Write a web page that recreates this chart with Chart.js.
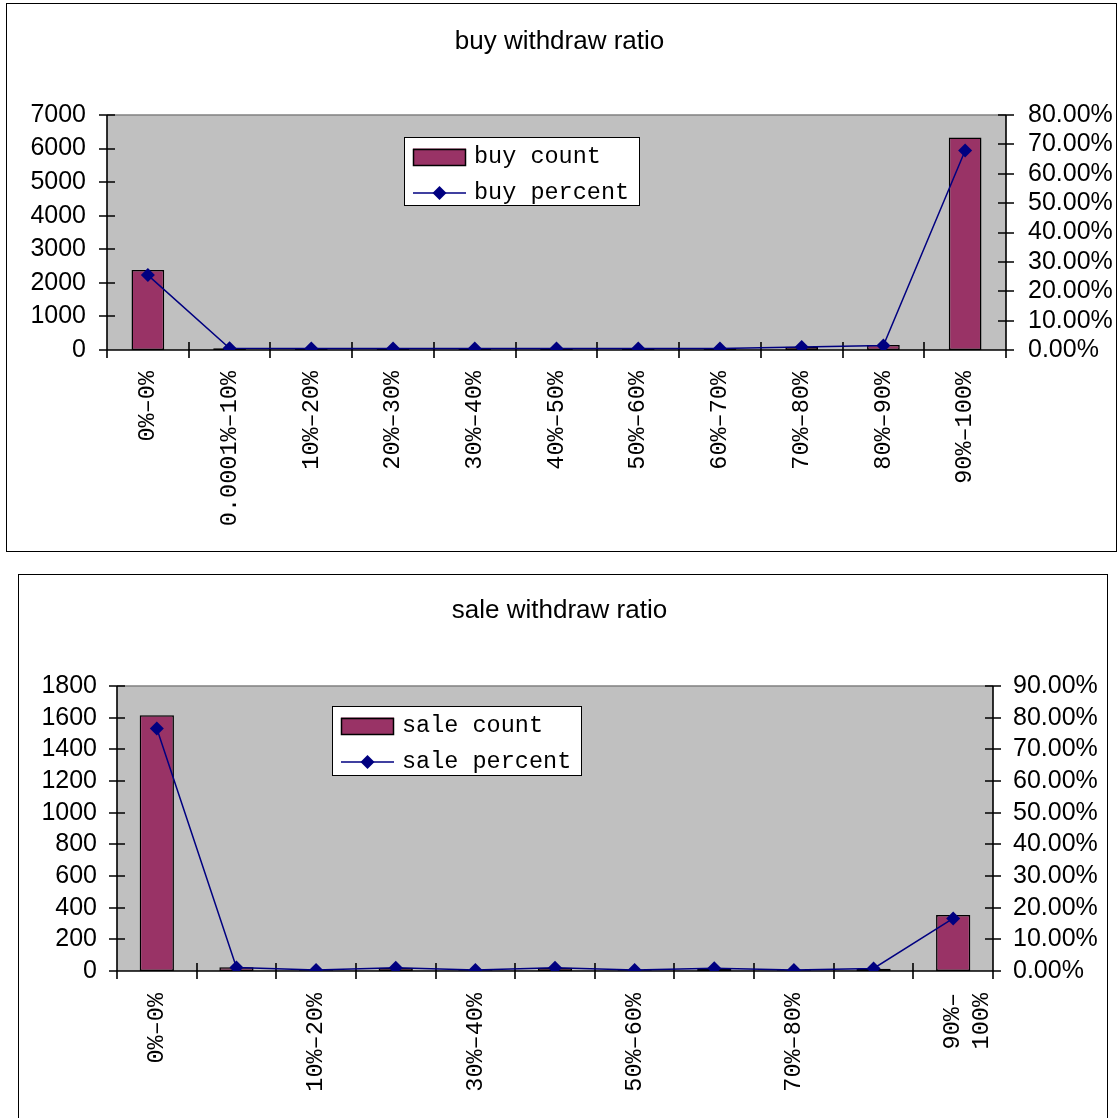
<!DOCTYPE html>
<html>
<head>
<meta charset="utf-8">
<title>withdraw ratio</title>
<script src="https://cdn.jsdelivr.net/npm/chart.js@4/dist/chart.umd.min.js"></script>
<style>
  html, body { margin: 0; padding: 0; background: #fff; }
  body { width: 1119px; height: 1118px; position: relative; overflow: hidden; }
  .frame { position: absolute; border: 1px solid #000; box-sizing: border-box; }
  canvas { position: absolute; left: 0; }
</style>
</head>
<body>
<div class="frame" style="left:6px; top:3px; width:1111px; height:549px;"></div>
<div class="frame" style="left:18px; top:574px; width:1090px; height:600px;"></div>
<canvas id="buyChart" width="1119" height="552" style="top:0;"></canvas>
<canvas id="saleChart" width="1119" height="558" style="top:560px;"></canvas>

<script>
// ---- data ----
const buyRanges = ['0%–0%', '0.0001%–10%', '10%–20%', '20%–30%', '30%–40%', '40%–50%',
                   '50%–60%', '60%–70%', '70%–80%', '80%–90%', '90%–100%'];
const saleRanges = ['0%–0%', '0.0001%–10%', '10%–20%', '20%–30%', '30%–40%', '40%–50%',
                    '50%–60%', '60%–70%', '70%–80%', '80%–90%', ['90%–', '100%']];

const buyCount   = [2380, 55, 50, 45, 50, 50, 45, 50, 100, 150, 6330];
const buyPercent = [25.5, 0.6, 0.5, 0.5, 0.5, 0.5, 0.5, 0.5, 1.0, 1.5, 67.9];

const saleCount   = [1615, 23, 5, 20, 5, 20, 5, 18, 5, 15, 353];
const salePercent = [76.6, 1.1, 0.3, 1.0, 0.3, 1.0, 0.3, 0.9, 0.3, 0.8, 16.6];

// axis ranges (count axis max/step, percent axis max/step)
const buyCountMax = 7000,  buyCountStep = 1000;
const buyPctMax   = 80,    buyPctStep   = 10;
const saleCountMax = 1800, saleCountStep = 200;
const salePctMax   = 90,   salePctStep   = 10;
const saleLabelStep = 2;   // every other category name is printed on the sale chart

// ---- styling ----
const SANS = "'Liberation Sans', Arial, sans-serif";
const MONO = "'Liberation Mono', 'DejaVu Sans Mono', monospace";
const BAR_FILL = '#993366';
const LINE_COLOR = '#000080';

Chart.defaults.font.family = SANS;
Chart.defaults.color = '#000';

// grey plot background, axis lines and tick marks that cross the axes
const axisFrame = {
  id: 'axisFrame',
  beforeDraw(chart) {
    const { ctx, chartArea: a } = chart;
    ctx.save();
    ctx.fillStyle = '#c0c0c0';
    ctx.fillRect(a.left, a.top, a.right - a.left, a.bottom - a.top);
    ctx.strokeStyle = '#808080';
    ctx.lineWidth = 1.5;
    ctx.beginPath();
    ctx.moveTo(a.left, Math.round(a.top));
    ctx.lineTo(a.right, Math.round(a.top));
    ctx.stroke();
    ctx.restore();
  },
  beforeDatasetsDraw(chart, args, opts) {
    const { ctx, chartArea: a, scales } = chart;
    const t = opts.tick || 8;
    const px = v => Math.round(v);
    const L = px(a.left), R = px(a.right), B = px(a.bottom), T = px(a.top);
    ctx.save();
    ctx.strokeStyle = '#000';
    ctx.lineWidth = 1.6;
    ctx.beginPath();
    ctx.moveTo(L, T); ctx.lineTo(L, B + t);
    ctx.moveTo(R, T); ctx.lineTo(R, B + t);
    ctx.moveTo(L - t, B); ctx.lineTo(R + t, B);
    scales.y.ticks.forEach(tk => {
      const y = px(scales.y.getPixelForValue(tk.value));
      ctx.moveTo(L - t, y); ctx.lineTo(L + t, y);
    });
    scales.y1.ticks.forEach(tk => {
      const y = px(scales.y1.getPixelForValue(tk.value));
      ctx.moveTo(R - t, y); ctx.lineTo(R + t, y);
    });
    const n = chart.data.labels.length;
    for (let i = 0; i <= n; i++) {
      const x = px(scales.x.getPixelForValue(i - 0.5));
      ctx.moveTo(x, B - t); ctx.lineTo(x, B + t);
    }
    ctx.stroke();
    ctx.restore();
  }
};

// boxed legend placed inside the plot area
const insetLegend = {
  id: 'insetLegend',
  afterDatasetsDraw(chart, args, o) {
    const { ctx } = chart;
    ctx.save();
    ctx.fillStyle = '#fff';
    ctx.fillRect(o.left, o.top, o.width, o.height);
    ctx.strokeStyle = '#000';
    ctx.lineWidth = 1;
    ctx.strokeRect(o.left + 0.5, o.top + 0.5, o.width - 1, o.height - 1);
    ctx.font = o.font;
    ctx.textBaseline = 'middle';
    ctx.textAlign = 'left';
    chart.data.datasets.forEach((ds, i) => {
      const cy = o.top + o.rowTop + i * o.rowGap;
      const sx = o.left + o.swatchX;
      const sw = o.swatchW, sh = o.swatchH;
      if (ds.type === 'line') {
        ctx.strokeStyle = ds.borderColor;
        ctx.lineWidth = ds.borderWidth;
        ctx.beginPath();
        ctx.moveTo(sx, cy); ctx.lineTo(sx + sw, cy);
        ctx.stroke();
        const r = ds.pointRadius, cx = sx + sw / 2;
        ctx.fillStyle = ds.pointBackgroundColor;
        ctx.beginPath();
        ctx.moveTo(cx, cy - r); ctx.lineTo(cx + r, cy);
        ctx.lineTo(cx, cy + r); ctx.lineTo(cx - r, cy);
        ctx.closePath();
        ctx.fill();
      } else {
        ctx.fillStyle = ds.backgroundColor;
        ctx.fillRect(sx, cy - sh / 2, sw, sh);
        ctx.strokeStyle = ds.borderColor;
        ctx.lineWidth = 1.5;
        ctx.strokeRect(Math.round(sx) + 0.5, Math.round(cy - sh / 2) + 0.5, sw - 1, sh - 1);
      }
      ctx.fillStyle = '#000';
      ctx.fillText(ds.label, o.left + o.textX, cy);
    });
    ctx.restore();
  }
};

function makeChart(canvasId, cfg) {
  return new Chart(document.getElementById(canvasId), {
    data: {
      labels: cfg.labels,
      datasets: [
        {
          type: 'bar', label: cfg.countLabel, data: cfg.count, yAxisID: 'y', order: 1,
          backgroundColor: BAR_FILL, borderColor: '#000', borderWidth: 1.5, borderSkipped: false,
          barPercentage: cfg.barPct, categoryPercentage: 1
        },
        {
          type: 'line', label: cfg.pctLabel, data: cfg.pct, yAxisID: 'y1', order: 0,
          borderColor: LINE_COLOR, borderWidth: 1.5, tension: 0, fill: false,
          pointStyle: 'rectRot', pointRadius: 7, pointBackgroundColor: LINE_COLOR,
          pointBorderColor: LINE_COLOR, pointBorderWidth: 0
        }
      ]
    },
    options: {
      responsive: false,
      animation: false,
      layout: { padding: 0 },
      plugins: {
        legend: { display: false },
        tooltip: { enabled: false },
        title: {
          display: true, text: cfg.title, color: '#000',
          font: { family: SANS, size: 26, weight: 'normal', lineHeight: 1.2 },
          padding: cfg.titlePad
        },
        axisFrame: { tick: 8 },
        insetLegend: Object.assign({
          font: '23.5px ' + MONO, swatchX: 9, swatchW: 53, swatchH: 17,
          rowTop: 20, rowGap: 36, textX: 70
        }, cfg.legendBox)
      },
      scales: {
        x: {
          type: 'category', offset: true,
          grid: { display: false, drawTicks: false, offset: true },
          border: { display: false },
          ticks: {
            autoSkip: false, minRotation: 90, maxRotation: 90, padding: cfg.xPad,
            font: { family: MONO, size: 23.5, lineHeight: 1.2 },
            callback: function (v, i) {
              return i % cfg.labelStep === 0 ? this.getLabelForValue(v) : '';
            }
          },
          afterFit: s => { s.height = cfg.xHeight; }
        },
        y: {
          position: 'left', min: 0, max: cfg.countMax,
          grid: { display: false, drawTicks: false }, border: { display: false },
          ticks: {
            stepSize: cfg.countStep, autoSkip: false, padding: cfg.yPad, font: { size: 25 },
            callback: v => String(v)
          },
          afterFit: s => { s.width = cfg.yWidth; }
        },
        y1: {
          position: 'right', min: 0, max: cfg.pctMax,
          grid: { display: false, drawTicks: false }, border: { display: false },
          ticks: {
            stepSize: cfg.pctStep, autoSkip: false, padding: cfg.y1Pad, font: { size: 25 },
            callback: v => v.toFixed(2) + '%'
          },
          afterFit: s => { s.width = cfg.y1Width; }
        }
      }
    },
    plugins: [axisFrame, insetLegend]
  });
}

makeChart('buyChart', {
  title: 'buy withdraw ratio',
  labels: buyRanges, count: buyCount, pct: buyPercent,
  countLabel: 'buy count', pctLabel: 'buy percent',
  countMax: buyCountMax, countStep: buyCountStep, pctMax: buyPctMax, pctStep: buyPctStep,
  labelStep: 1, barPct: 0.4,
  titlePad: { top: 26, bottom: 57.8 },
  xHeight: 202, xPad: 21,
  yWidth: 107, yPad: 21,
  y1Width: 113, y1Pad: 22,
  legendBox: { left: 404, top: 137, width: 236, height: 69 }
});

makeChart('saleChart', {
  title: 'sale withdraw ratio',
  labels: saleRanges, count: saleCount, pct: salePercent,
  countLabel: 'sale count', pctLabel: 'sale percent',
  countMax: saleCountMax, countStep: saleCountStep, pctMax: salePctMax, pctStep: salePctStep,
  labelStep: saleLabelStep, barPct: 0.43,
  titlePad: { top: 35.5, bottom: 59.3 },
  xHeight: 147, xPad: 22,
  yWidth: 117, yPad: 20,
  y1Width: 126, y1Pad: 20,
  legendBox: { left: 332, top: 146, width: 250, height: 70 }
});
</script>
</body>
</html>
